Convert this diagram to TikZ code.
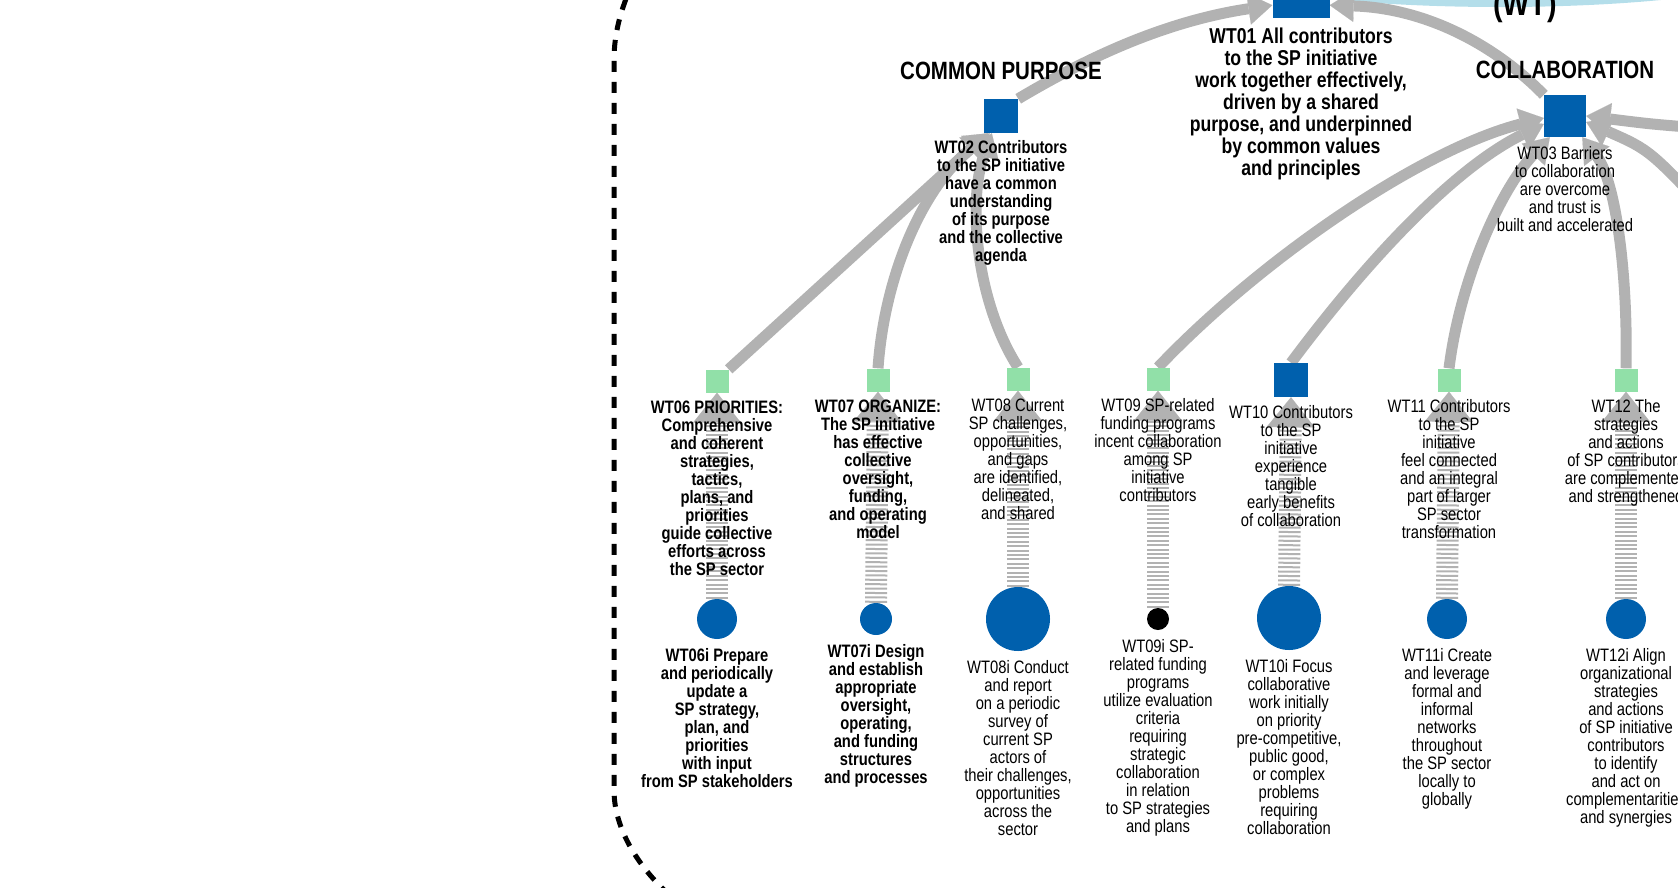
\documentclass[tikz,border=0pt]{standalone}
\usepackage{fontspec}
\setmainfont{Liberation Sans}[FakeStretch=0.82]
\usetikzlibrary{arrows.meta,positioning,backgrounds}

\definecolor{wtblue}{RGB}{0,96,173}
\definecolor{wtgreen}{RGB}{145,224,168}
\definecolor{wtgray}{RGB}{178,178,178}
\definecolor{wtsky}{RGB}{180,222,234}

\tikzset{
  goal/.style={rectangle,fill=wtblue,inner sep=0pt,minimum size=#1},
  subgoal/.style={rectangle,fill=wtgreen,inner sep=0pt,minimum size=23pt},
  act/.style={circle,fill=wtblue,inner sep=0pt,minimum size=#1},
  lbl/.style={align=center,inner sep=0pt,font=\fontsize{18}{18}\selectfont},
  blbl/.style={lbl,font=\fontsize{18}{18}\selectfont\bfseries},
  head/.style={inner sep=0pt,font=\fontsize{25}{25}\selectfont\bfseries},
  feed/.style={draw=wtgray,line width=11pt,-{Triangle[width=32pt,length=24pt,line width=0.1pt]}},
  rung/.style={draw=wtgray,line width=22pt,dash pattern=on 2pt off 2.4pt,-{Triangle[width=48pt,length=30pt,line width=0.1pt]}},
}

\begin{document}
\begin{tikzpicture}[x=1pt,y=-1pt]
\useasboundingbox (0,0) rectangle (1678,887);

% goals
\node[goal=57pt] (g01) at (1301,-10.5) {};
\node[goal=34pt] (g02) at (1001,116) {};
\node[goal=42pt] (g03) at (1565,116) {};

% subgoals
\node[subgoal] (s06) at (717,381) {};
\node[subgoal] (s07) at (878,380) {};
\node[subgoal] (s08) at (1018,379) {};
\node[subgoal] (s09) at (1158,379) {};
\node[goal=34pt] (s10) at (1291,380) {};
\node[subgoal] (s11) at (1449,380) {};
\node[subgoal] (s12) at (1626,380) {};

% interventions
\node[act=40pt] (a06) at (717,619) {};
\node[act=32pt] (a07) at (876,619) {};
\node[act=64pt] (a08) at (1018,619) {};
\node[act=22pt,fill=black] (a09) at (1158,619) {};
\node[act=64pt] (a10) at (1289,618) {};
\node[act=40pt] (a11) at (1447,619) {};
\node[act=40pt] (a12) at (1626,619) {};

\coordinate (r1) at (1700,128);
\coordinate (r2) at (1720,225);

\begin{scope}[on background layer]
\fill[wtsky] (1500,-38) ellipse [x radius=300, y radius=45];
\draw[line width=5pt,dash pattern=on 11pt off 10pt] (634,-20) .. controls (620,10) and (614,35) .. (614,60) -- (614,790) .. controls (614,830) and (640,870) .. (675,900);

\draw[feed] (g02.north east) .. controls (1080,62) and (1160,22) .. ([yshift=13pt]g01.south west);
\draw[feed] (g03.north west) .. controls (1490,40) and (1420,8) .. ([yshift=13pt]g01.south east);

\draw[feed] (s06.north east) -- ([xshift=4pt]g02.south west);
\draw[feed] (s07.north) .. controls (884,280) and (920,190) .. ([xshift=6pt]g02.south west);
\draw[feed] (s08.north) .. controls (975,300) and (968,200) .. ([xshift=8pt]g02.south west);

\draw[feed] (s09.north) .. controls (1260,260) and (1420,150) .. ([yshift=-2pt]g03.west);
\draw[feed] (s10.north) .. controls (1360,270) and (1450,170) .. ([yshift=-8pt]g03.west);
\draw[feed] (s11.north) .. controls (1460,280) and (1500,190) .. ([xshift=6pt]g03.south west);
\draw[feed] (s12.north) .. controls (1628,270) and (1615,180) .. ([xshift=-4pt]g03.south east);
\draw[feed] (r1) .. controls (1650,124) .. (g03.east);
\draw[feed] (r2) .. controls (1650,150) .. ([yshift=-6pt]g03.east);

\draw[rung] (a06.north) -- (s06.south);
\draw[rung] (a07.north) -- (s07.south);
\draw[rung] (a08.north) -- (s08.south);
\draw[rung] (a09.north) -- (s09.south);
\draw[rung] (a10.north) -- (s10.south);
\draw[rung] (a11.north) -- (s11.south);
\draw[rung] (a12.north) -- (s12.south);
\end{scope}

% headings
\node[font=\fontsize{35}{35}\selectfont\bfseries,anchor=base] (hwt) at (1525,15) {(WT)};
\node[head,above=19pt of g02] (hcp) {COMMON PURPOSE};
\node[head,above=16pt of g03] (hco) {COLLABORATION};

% texts
\node[blbl,font=\fontsize{21.5}{22}\selectfont\bfseries,below=10pt of g01] (t01) {WT01 All contributors\\to the SP initiative\\work together effectively,\\driven by a shared\\purpose, and underpinned\\by common values\\and principles};
\node[blbl,below=7pt of g02] (t02) {WT02 Contributors\\to the SP initiative\\have a common\\understanding\\of its purpose\\and the collective\\agenda};
\node[lbl,below=9pt of g03] (t03) {WT03 Barriers\\to collaboration\\are overcome\\and trust is\\built and accelerated};

\node[blbl,below=8pt of s06] (t06) {WT06 PRIORITIES:\\Comprehensive\\and coherent\\strategies,\\tactics,\\plans, and\\priorities\\guide collective\\efforts across\\the SP sector};
\node[blbl,below=8pt of s07] (t07) {WT07 ORGANIZE:\\The SP initiative\\has effective\\collective\\oversight,\\funding,\\and operating\\model};
\node[lbl,below=8pt of s08] (t08) {WT08 Current\\SP challenges,\\opportunities,\\and gaps\\are identified,\\delineated,\\and shared};
\node[lbl,below=8pt of s09] (t09) {WT09 SP-related\\funding programs\\incent collaboration\\among SP\\initiative\\contributors};
\node[lbl,below=8pt of s10] (t10) {WT10 Contributors\\to the SP\\initiative\\experience\\tangible\\early benefits\\of collaboration};
\node[lbl,below=8pt of s11] (t11) {WT11 Contributors\\to the SP\\initiative\\feel connected\\and an integral\\part of larger\\SP sector\\transformation};
\node[lbl,below=8pt of s12] (t12) {WT12 The\\strategies\\and actions\\of SP contributors\\are complemented\\and strengthened};

\node[blbl,below=9pt of a06] (t06i) {WT06i Prepare\\and periodically\\update a\\SP strategy,\\plan, and\\priorities\\with input\\from SP stakeholders};
\node[blbl,below=9pt of a07] (t07i) {WT07i Design\\and establish\\appropriate\\oversight,\\operating,\\and funding\\structures\\and processes};
\node[lbl,below=9pt of a08] (t08i) {WT08i Conduct\\and report\\on a periodic\\survey of\\current SP\\actors of\\their challenges,\\opportunities\\across the\\sector};
\node[lbl,below=9pt of a09] (t09i) {WT09i SP-\\related funding\\programs\\utilize evaluation\\criteria\\requiring\\strategic\\collaboration\\in relation\\to SP strategies\\and plans};
\node[lbl,below=9pt of a10] (t10i) {WT10i Focus\\collaborative\\work initially\\on priority\\pre-competitive,\\public good,\\or complex\\problems\\requiring\\collaboration};
\node[lbl,below=9pt of a11] (t11i) {WT11i Create\\and leverage\\formal and\\informal\\networks\\throughout\\the SP sector\\locally to\\globally};
\node[lbl,below=9pt of a12] (t12i) {WT12i Align\\organizational\\strategies\\and actions\\of SP initiative\\contributors\\to identify\\and act on\\complementarities\\and synergies};
\end{tikzpicture}
\end{document}
